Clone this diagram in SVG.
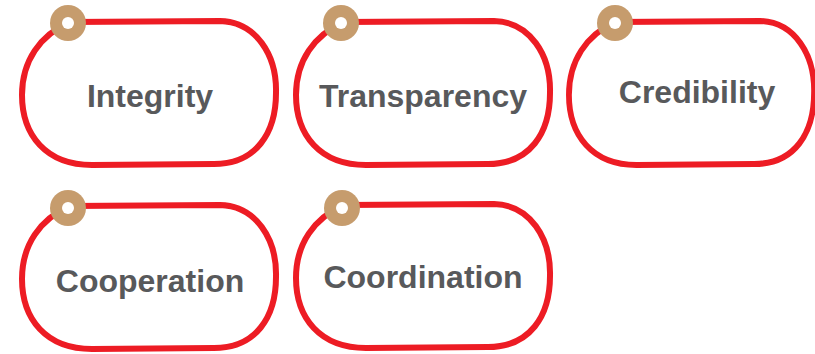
<svg xmlns="http://www.w3.org/2000/svg" width="815" height="354" viewBox="0 0 815 354">
<style>
.b{fill:#fff;stroke:#ed1c24;stroke-width:6;stroke-linejoin:round}
.r{fill:#c69c6d}
.h{fill:#fff}
.t{font-family:"Liberation Sans",Arial,sans-serif;font-weight:bold;font-size:32px;fill:#58595b;text-anchor:middle}
</style>
<defs>
<path id="shape" d="M 50 3 L 200 2 C 236 3 257 36 256 74 C 256 114 236 145 194 145 L 72 146 C 26 146 2 116 2 76 C 2 42 20 16 50 3 Z"/>
</defs>
<rect width="815" height="354" fill="#fff"/>
<g id="connectors"></g>
<g id="node-integrity">
<use href="#shape" class="b" transform="translate(20,19)"/>
<circle class="r" cx="68" cy="23" r="18"/>
<circle class="h" cx="68" cy="23" r="6"/>
<text class="t" x="150" y="107">Integrity</text>
</g>
<g id="node-transparency">
<use href="#shape" class="b" transform="translate(294,19)"/>
<circle class="r" cx="341" cy="23" r="18"/>
<circle class="h" cx="341" cy="23" r="6"/>
<text class="t" x="423" y="107">Transparency</text>
</g>
<g id="node-credibility">
<use href="#shape" class="b" transform="translate(567,19) scale(0.965,1)"/>
<circle class="r" cx="615" cy="23" r="18"/>
<circle class="h" cx="615" cy="23" r="6"/>
<text class="t" x="697" y="103">Credibility</text>
</g>
<g id="node-cooperation">
<use href="#shape" class="b" transform="translate(20,203)"/>
<circle class="r" cx="68" cy="208" r="18"/>
<circle class="h" cx="68" cy="208" r="6"/>
<text class="t" x="150" y="292">Cooperation</text>
</g>
<g id="node-coordination">
<use href="#shape" class="b" transform="translate(294,202)"/>
<circle class="r" cx="342" cy="208" r="18"/>
<circle class="h" cx="342" cy="208" r="6"/>
<text class="t" x="423" y="288">Coordination</text>
</g>
</svg>
